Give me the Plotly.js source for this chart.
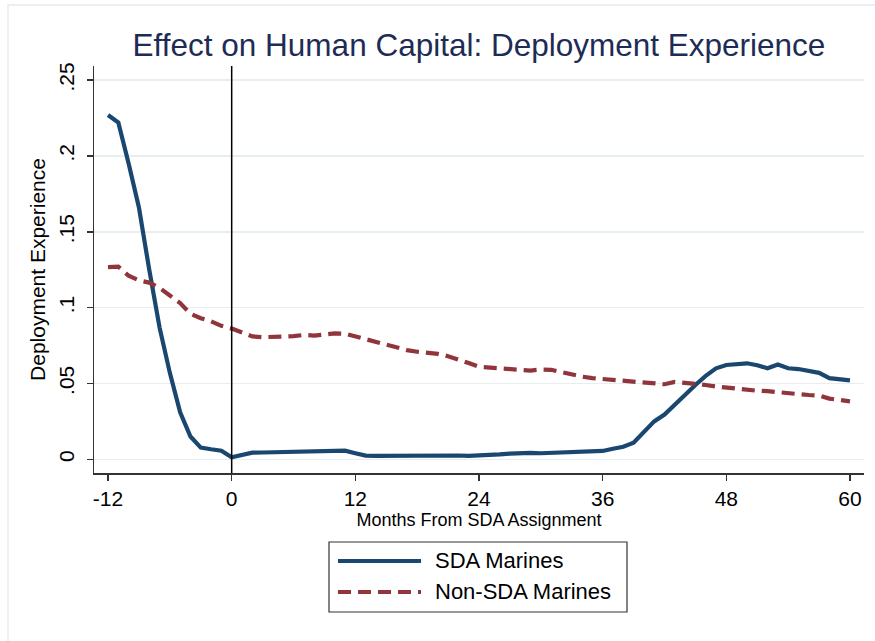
<!DOCTYPE html>
<html>
<head>
<meta charset="utf-8">
<script src="https://cdn.plot.ly/plotly-3.0.1.min.js"></script>
<style>html,body{margin:0;padding:0;background:#fff;}#chart{width:875px;height:641px;}</style>
</head>
<body>
<div id="chart"></div>
<script>
// Months relative to SDA assignment
const months = [];
for (let m = -12; m <= 60; m++) months.push(m);

const sdaValues = [
  0.227, 0.222, 0.195, 0.166, 0.125, 0.087, 0.057, 0.031, 0.015, 0.0077, 0.0066, 0.0057,
  0.0013,
  0.003, 0.0044, 0.0045, 0.0046, 0.0047, 0.0048, 0.005, 0.005, 0.0052, 0.0055, 0.0057, 0.004,
  0.0024, 0.0022, 0.0023, 0.0023, 0.0023, 0.0023, 0.0024, 0.0025, 0.0026, 0.0025, 0.0023, 0.0024,
  0.0028, 0.0032, 0.0038, 0.0043, 0.0042, 0.004, 0.0042, 0.0045, 0.0048, 0.0053, 0.0052, 0.0055,
  0.007, 0.0083, 0.011, 0.018, 0.025, 0.0295, 0.036, 0.043, 0.049, 0.055, 0.060, 0.0622,
  0.063, 0.0633, 0.062, 0.060, 0.0625, 0.060, 0.0595, 0.0585, 0.057, 0.0535, 0.053, 0.052
];

const nonSdaValues = [
  0.1267, 0.127, 0.121, 0.118, 0.1165, 0.113, 0.108, 0.103, 0.096, 0.093, 0.091, 0.088,
  0.0862,
  0.0835, 0.081, 0.0805, 0.0806, 0.0808, 0.0812, 0.082, 0.0816, 0.0822, 0.083, 0.0828, 0.081,
  0.0785, 0.0768, 0.0752, 0.0737, 0.072, 0.0709, 0.0703, 0.0695, 0.068, 0.066, 0.0635, 0.061,
  0.0605, 0.0598, 0.0593, 0.0588, 0.0585, 0.0592, 0.059, 0.0575, 0.0558, 0.0545, 0.0535, 0.053,
  0.0525, 0.052, 0.0512, 0.0505, 0.05, 0.0495, 0.051, 0.0505, 0.0495, 0.049, 0.048, 0.0472,
  0.0463, 0.0458, 0.0452, 0.0449, 0.0445, 0.0438, 0.043, 0.0424, 0.042, 0.040, 0.0392, 0.0382
];

const seriesNames = ["SDA Marines", "Non-SDA Marines"];
const xTickVals = [-12, 0, 12, 24, 36, 48, 60];
const yTickVals = [0, 0.05, 0.1, 0.15, 0.2, 0.25];
const yTickText = ["0", ".05", ".1", ".15", ".2", ".25"];
const eventMonth = 0;

const NAVY = "#1a476f";
const MAROON = "#90353b";
const FONT = "Liberation Sans, Arial, sans-serif";

const traces = [
  {x: months, y: sdaValues, type: "scatter", mode: "lines", name: seriesNames[0],
   line: {color: NAVY, width: 4.2}},
  {x: months, y: nonSdaValues, type: "scatter", mode: "lines", name: seriesNames[1],
   line: {color: MAROON, width: 4.2, dash: "13px,7px"}}
];

const layout = {
  width: 875, height: 641,
  margin: {l: 94, r: 11, t: 66, b: 168},
  paper_bgcolor: "#ffffff", plot_bgcolor: "#ffffff",
  font: {family: FONT, color: "#000"},
  showlegend: false,
  title: {text: "Effect on Human Capital: Deployment Experience",
          font: {family: FONT, size: 31.5, color: "#1e2c55"},
          x: 0.5, xref: "paper", xanchor: "center",
          y: 1 - 45/641, yref: "container", yanchor: "middle"},
  xaxis: {range: [-13.36, 61.36], tickvals: xTickVals, ticktext: xTickVals.map(String),
          showgrid: false, zeroline: false, showline: true, linecolor: "#333", linewidth: 1.5,
          ticks: "outside", ticklen: 6, tickwidth: 1.5, tickcolor: "#333",
          tickfont: {size: 21, family: FONT, color: "#000"},
          title: {text: "Months From SDA Assignment", font: {size: 18, family: FONT, color: "#000"}, standoff: 1}},
  yaxis: {range: [-0.00903, 0.2593], tickvals: yTickVals, ticktext: yTickText, tickangle: -90,
          ticklabelstandoff: 4,
          showgrid: true, gridcolor: "#e6eef2", gridwidth: 1.5,
          zeroline: false, showline: true, linecolor: "#333", linewidth: 1.5,
          ticks: "outside", ticklen: 6, tickwidth: 1.5, tickcolor: "#333",
          tickfont: {size: 21, family: FONT, color: "#000"},
          title: {text: "Deployment Experience", font: {size: 21, family: FONT, color: "#000"}, standoff: 3}},
  shapes: [
    {type: "line", xref: "x", yref: "paper", x0: eventMonth, x1: eventMonth, y0: 0, y1: 1,
     line: {color: "#000", width: 1.5}, layer: "above"},
    {type: "rect", xref: "paper", yref: "paper", x0: (8-94)/770, x1: (890-94)/770,
     y0: (473-660)/407, y1: (473-5)/407, line: {color: "#e3ecf0", width: 1.5}, layer: "below"},
    {type: "rect", xref: "paper", yref: "paper", x0: (329-94)/770, x1: (627-94)/770,
     y0: (473-612)/407, y1: (473-542)/407, line: {color: "#333", width: 1.2}},
    {type: "line", xref: "paper", yref: "paper", x0: (338-94)/770, x1: (421-94)/770,
     y0: (473-561)/407, y1: (473-561)/407, line: {color: NAVY, width: 4.2}},
    {type: "line", xref: "paper", yref: "paper", x0: (338-94)/770, x1: (421-94)/770,
     y0: (473-592)/407, y1: (473-592)/407, line: {color: MAROON, width: 4.2, dash: "13px,7px"}}
  ],
  annotations: [
    {xref: "paper", yref: "paper", x: (433-94)/770, y: (473-560)/407, xanchor: "left", yanchor: "middle",
     text: seriesNames[0], showarrow: false, font: {size: 22, family: FONT, color: "#000"}},
    {xref: "paper", yref: "paper", x: (433-94)/770, y: (473-591)/407, xanchor: "left", yanchor: "middle",
     text: seriesNames[1], showarrow: false, font: {size: 22, family: FONT, color: "#000"}}
  ]
};

Plotly.newPlot("chart", traces, layout, {displayModeBar: false, staticPlot: true});
</script>
</body>
</html>
